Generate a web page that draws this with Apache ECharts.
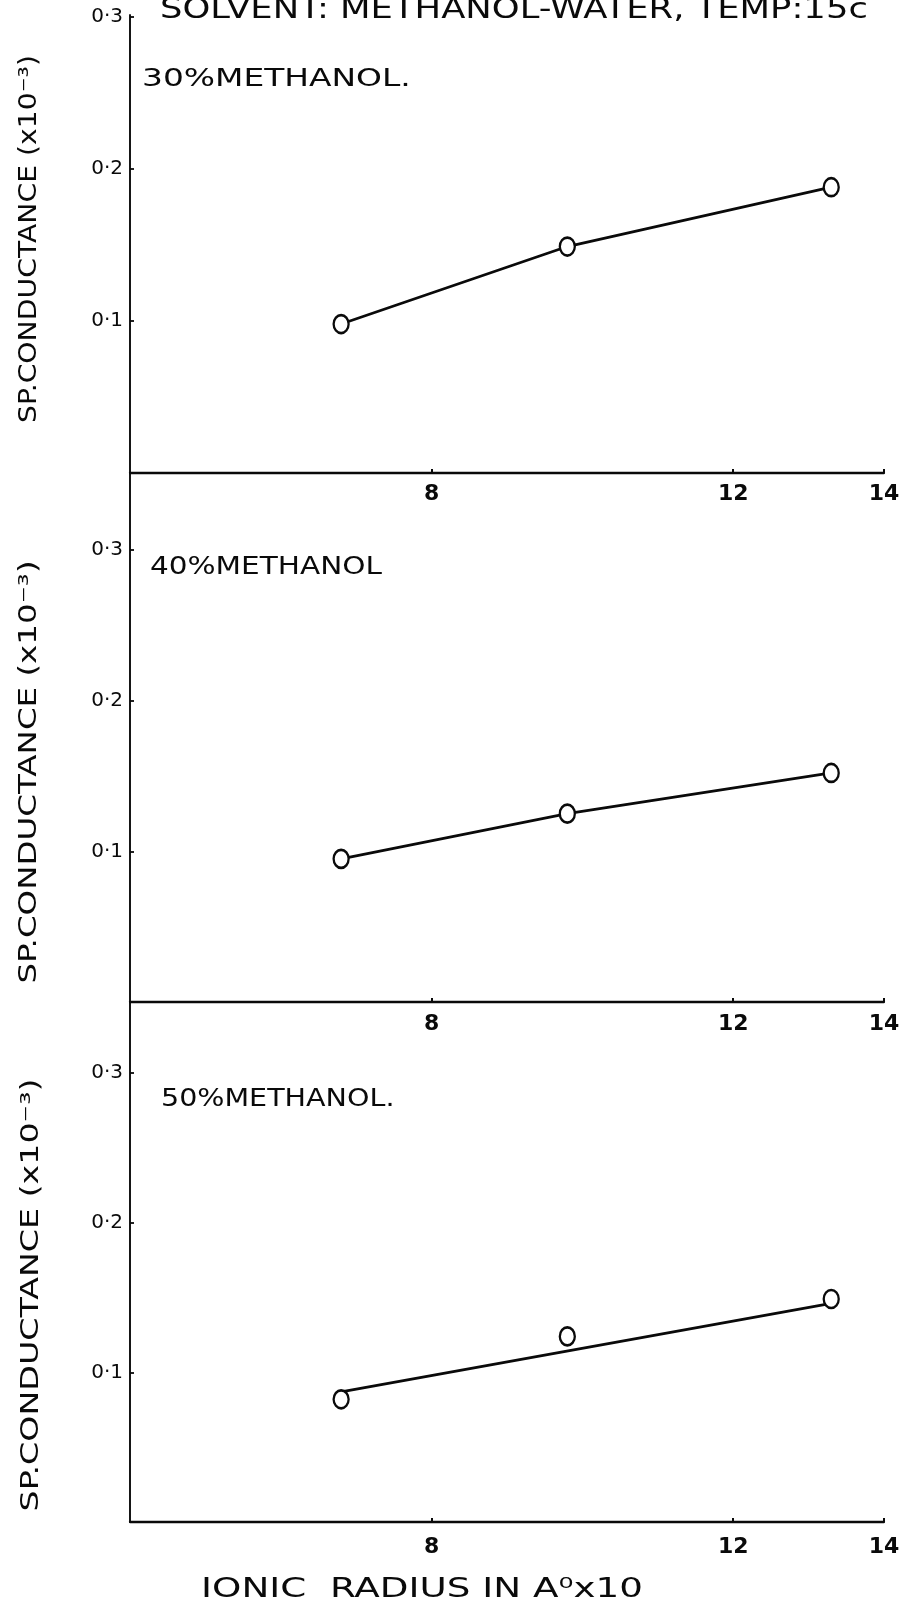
<!DOCTYPE html>
<html>
<head>
<meta charset="utf-8">
<script src="https://cdn.jsdelivr.net/npm/echarts@6/dist/echarts.min.js"></script>
<style>
  html, body { margin: 0; padding: 0; background: #fff; }
  #chart { width: 912px; height: 1605px; }
</style>
</head>
<body>
<div id="chart"></div>
<script>
// Ionic radius (Å x 10) of the three ions measured in each solvent mixture
const ionicRadius = [6.8, 9.8, 13.3];

// Specific conductance (x10^-3) for each methanol-water mixture
const conductance30 = [0.098, 0.149, 0.188];
const conductance40 = [0.095, 0.125, 0.152];
const conductance50 = [0.082, 0.124, 0.149];

// Straight line drawn through the 50 % methanol points
const fitRadius50 = [6.8, 13.3];
const fitConductance50 = [0.087, 0.146];

// Axis ticks and their printed labels
const xTickValues = [8, 12, 14];
const yTickValues = [0.1, 0.2, 0.3];
const yTickLabels = ['0·1', '0·2', '0·3'];

const panelNames = ['30%METHANOL.', '40%METHANOL', '50%METHANOL.'];
const chartTitle = 'SOLVENT: METHANOL-WATER, TEMP:15c';
const yAxisTitle = 'SP.CONDUCTANCE (x10⁻³)';
const xAxisTitle = 'IONIC  RADIUS IN A⁰x10';

const FONT = 'DejaVu Sans';
const INK = '#0a0a0a';
const AXIS_X = 130;

const pairs = (xs, ys) => xs.map((x, i) => [x, ys[i]]);

// Panel frames: top of the 0.3 level and height down to the zero line
const panels = [
  { top: 17,   height: 456, labelMargin: 10, pts: conductance30, line: pairs(ionicRadius, conductance30) },
  { top: 550,  height: 452, labelMargin: 11, pts: conductance40, line: pairs(ionicRadius, conductance40) },
  { top: 1073, height: 449, labelMargin: 14, pts: conductance50, line: pairs(fitRadius50, fitConductance50) }
];

const grid = [], xAxis = [], yAxis = [], series = [];
panels.forEach((p, i) => {
  grid.push({ left: AXIS_X, top: p.top, width: 754, height: p.height, containLabel: false });
  xAxis.push({
    type: 'value', gridIndex: i, min: 4, max: 14,
    axisLine: { onZero: false, lineStyle: { color: INK, width: 2.3 } },
    axisTick: { show: true, customValues: xTickValues, length: 4, inside: true, lineStyle: { color: INK, width: 2 } },
    axisLabel: { customValues: xTickValues, margin: p.labelMargin, fontSize: 22, fontWeight: 'bold', color: INK, fontFamily: FONT },
    splitLine: { show: false }
  });
  yAxis.push({
    type: 'value', gridIndex: i, min: 0, max: 0.3,
    axisLine: { show: false },
    axisTick: { show: true, customValues: yTickValues, length: 4, inside: true, lineStyle: { color: INK, width: 1.8 } },
    axisLabel: {
      customValues: yTickValues, margin: 7, fontSize: 20, color: INK, fontFamily: FONT,
      formatter: v => yTickLabels[yTickValues.findIndex(t => Math.abs(t - v) < 1e-6)] || ''
    },
    splitLine: { show: false }
  });
  series.push({
    type: 'line', xAxisIndex: i, yAxisIndex: i, data: p.line,
    symbol: 'none', lineStyle: { color: INK, width: 2.8 }, z: 2, silent: true
  });
  series.push({
    type: 'scatter', xAxisIndex: i, yAxisIndex: i, data: pairs(ionicRadius, p.pts),
    symbol: 'circle', symbolSize: [15, 18],
    itemStyle: { color: '#fff', borderColor: INK, borderWidth: 2.5, opacity: 1 }, z: 3
  });
});

// One continuous vertical axis line shared by all three panels
grid.push({ left: AXIS_X, top: 15, width: 754, height: 1507, containLabel: false });
xAxis.push({ type: 'value', gridIndex: 3, min: 0, max: 1, show: false });
yAxis.push({
  type: 'value', gridIndex: 3, min: 0, max: 1,
  axisLine: { show: true, onZero: false, lineStyle: { color: INK, width: 1.9 } },
  axisTick: { show: false }, axisLabel: { show: false }, splitLine: { show: false }
});

const textStyle = (size) => ({ fill: INK, fontSize: size, fontFamily: FONT });
const vText = (x, y, stretch) => ({
  type: 'text', x, y, rotation: Math.PI / 2, scaleX: stretch,
  style: Object.assign({ text: yAxisTitle, align: 'center', verticalAlign: 'middle' }, textStyle(25))
});
const graphic = [
  { type: 'text', x: 160, y: 10, scaleX: 1.22,
    style: Object.assign({ text: chartTitle, verticalAlign: 'middle' }, textStyle(29)) },
  { type: 'text', x: 142, y: 80, scaleX: 1.37,
    style: Object.assign({ text: panelNames[0], verticalAlign: 'middle' }, textStyle(24)) },
  { type: 'text', x: 150, y: 568, scaleX: 1.23,
    style: Object.assign({ text: panelNames[1], verticalAlign: 'middle' }, textStyle(24)) },
  { type: 'text', x: 161, y: 1100, scaleX: 1.19,
    style: Object.assign({ text: panelNames[2], verticalAlign: 'middle' }, textStyle(24)) },
  vText(29, 239, 1.13),
  vText(29, 772, 1.30),
  vText(31, 1295, 1.33),
  { type: 'text', x: 422, y: 1590, scaleX: 1.38,
    style: Object.assign({ text: xAxisTitle, align: 'center', verticalAlign: 'middle' }, textStyle(27)) }
];

const chart = echarts.init(document.getElementById('chart'), null, { renderer: 'canvas' });
chart.setOption({
  backgroundColor: '#fff',
  animation: false,
  grid, xAxis, yAxis, series, graphic
});
</script>
</body>
</html>
